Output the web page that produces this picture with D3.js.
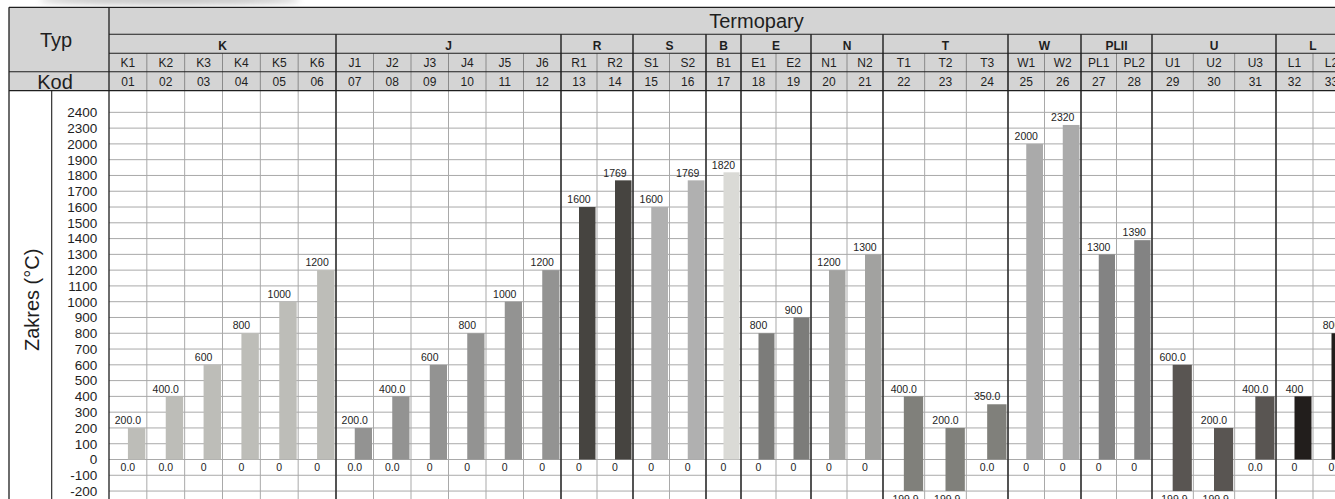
<!DOCTYPE html>
<html>
<head>
<meta charset="utf-8">
<script src="https://cdn.jsdelivr.net/npm/d3@7"></script>
<style>
  html, body { margin: 0; padding: 0; background: #fff; }
  svg { display: block; font-family: "Liberation Sans", Arial, Helvetica, sans-serif; }
</style>
</head>
<body>
<svg id="chart" width="1335" height="499"></svg>
<script>
// ---- data -------------------------------------------------------------
const typeNames = ["K1","K2","K3","K4","K5","K6","J1","J2","J3","J4","J5","J6",
  "R1","R2","S1","S2","B1","E1","E2","N1","N2","T1","T2","T3",
  "W1","W2","PL1","PL2","U1","U2","U3","L1","L2"];
const codes = ["01","02","03","04","05","06","07","08","09","10","11","12",
  "13","14","15","16","17","18","19","20","21","22","23","24",
  "25","26","27","28","29","30","31","32","33"];
const groupOf = ["K","K","K","K","K","K","J","J","J","J","J","J",
  "R","R","S","S","B","E","E","N","N","T","T","T",
  "W","W","PLII","PLII","U","U","U","L","L"];
// upper and lower end of each measuring range, °C
const rangeMax = [200,400,600,800,1000,1200, 200,400,600,800,1000,1200,
  1600,1769, 1600,1769, 1820, 800,900, 1200,1300, 400,200,350,
  2000,2320, 1300,1390, 600,200,400, 400,800];
const rangeMin = [0,0,0,0,0,0, 0,0,0,0,0,0,
  0,0, 0,0, 0, 0,0, 0,0, -199.9,-199.9,0,
  0,0, 0,0, -199.9,-199.9,0, 0,0];
// number of decimals printed in the value labels
const maxDecimals = [1,1,0,0,0,0, 1,1,0,0,0,0, 0,0, 0,0, 0, 0,0, 0,0, 1,1,1, 0,0, 0,0, 1,1,1, 0,0];
const minDecimals = [1,1,0,0,0,0, 1,1,0,0,0,0, 0,0, 0,0, 0, 0,0, 0,0, 1,1,1, 0,0, 0,0, 1,1,1, 0,0];
const yTicks = [2400,2300,2000,1900,1800,1700,1600,1500,1400,1300,1200,1100,1000,
  900,800,700,600,500,400,300,200,100,0,-100,-200];

// ---- styles -----------------------------------------------------------
const groupColor = {
  K: "#bdbdb8", J: "#939392", R: "#464440", S: "#b0b0b0", B: "#dadad6",
  E: "#7c7c7a", N: "#a2a2a0", T: "#80807b", W: "#aaaaaa", PLII: "#838383",
  U: "#595552", L: "#221e1c"
};
const headFill = "#d4d4d4";
const dark = "#1e1e1e";
const grid = "#a9a9a9";

// plain hyphen for negative numbers
const locale = d3.formatLocale({ decimal: ".", thousands: "", grouping: [3], currency: ["", ""], minus: "-" });
const fmt = n => locale.format(`.${n}f`);

// ---- layout -----------------------------------------------------------
const leftEdge = 9, splitX = 51.7, plotLeft = 109, tableRight = 1404;
const headTop = 7.3, rowTitle = 34.3, rowGroup = 53.3, rowName = 71.7, bodyTop = 90.7;
const bodyBottom = 510;
const zeroY = 459.5, rowH = 15.78;
// pixel edges of the thermocouple groups
const groupEdgePx = [109, 336, 561, 633, 706, 741, 811, 883, 1008, 1081, 1152, 1276, 1350];

const svg = d3.select("#chart");

// group spans (start/end column index)
const groups = [];
groupOf.forEach((g, i) => {
  const last = groups[groups.length - 1];
  if (last && last.name === g) last.end = i + 1;
  else groups.push({ name: g, start: i, end: i + 1 });
});
const groupEdgeIdx = [0, ...groups.map(g => g.end)];

// column index -> pixel (piecewise linear over group edges)
const x = d3.scaleLinear().domain(groupEdgeIdx).range(groupEdgePx);
const colMid = i => (x(i) + x(i + 1)) / 2;

// value -> pixel; the top of the scale is compressed above 2000
const y = d3.scaleLinear()
  .domain([-200, 2000, 2300, 2400])
  .range([zeroY + 2 * rowH, zeroY - 20 * rowH, zeroY - 21 * rowH, zeroY - 22 * rowH]);

// ---- soft shading at the top edge of the sheet ----------------------
const defs = svg.append("defs");
defs.append("filter").attr("id", "soft").append("feGaussianBlur").attr("stdDeviation", 3);
svg.append("ellipse")
  .attr("cx", 170).attr("cy", 0).attr("rx", 130).attr("ry", 5)
  .attr("fill", "#9a9a9a").attr("opacity", 0.55).attr("filter", "url(#soft)");

// ---- header -----------------------------------------------------------
svg.append("rect")
  .attr("x", leftEdge).attr("y", headTop)
  .attr("width", tableRight - leftEdge).attr("height", bodyTop - headTop)
  .attr("fill", headFill);

// column separators in the name and code rows
svg.append("g").selectAll("line")
  .data(d3.range(1, typeNames.length))
  .join("line")
  .attr("x1", i => x(i)).attr("x2", i => x(i))
  .attr("y1", rowGroup).attr("y2", bodyTop)
  .attr("stroke", "#8a8a8a").attr("stroke-width", 1);

// titles
svg.append("text").text("Typ")
  .attr("x", 56).attr("y", 46.5).attr("text-anchor", "middle")
  .attr("font-size", 20).attr("fill", dark);
svg.append("text").text("Kod")
  .attr("x", 55).attr("y", 89).attr("text-anchor", "middle")
  .attr("font-size", 20).attr("fill", dark);
svg.append("text").text("Termopary")
  .attr("x", (plotLeft + tableRight) / 2).attr("y", 28.3).attr("text-anchor", "middle")
  .attr("font-size", 20).attr("fill", dark);

// group letters
svg.append("g").selectAll("text")
  .data(groups)
  .join("text")
  .text(d => d.name)
  .attr("x", d => (x(d.start) + x(d.end)) / 2)
  .attr("y", 50)
  .attr("text-anchor", "middle")
  .attr("font-size", 12).attr("font-weight", "bold").attr("fill", dark);

// type names and codes
svg.append("g").selectAll("text")
  .data(typeNames)
  .join("text")
  .text(d => d)
  .attr("x", (d, i) => colMid(i)).attr("y", 67)
  .attr("text-anchor", "middle").attr("font-size", 12).attr("fill", dark);
svg.append("g").selectAll("text")
  .data(codes)
  .join("text")
  .text(d => d)
  .attr("x", (d, i) => colMid(i)).attr("y", 85.5)
  .attr("text-anchor", "middle").attr("font-size", 12).attr("fill", dark);

// ---- body grid --------------------------------------------------------
svg.append("g").selectAll("line")
  .data(yTicks)
  .join("line")
  .attr("x1", plotLeft).attr("x2", tableRight)
  .attr("y1", d => y(d)).attr("y2", d => y(d))
  .attr("stroke", grid).attr("stroke-width", 1);

svg.append("g").selectAll("line")
  .data(d3.range(1, typeNames.length))
  .join("line")
  .attr("x1", i => x(i)).attr("x2", i => x(i))
  .attr("y1", bodyTop).attr("y2", bodyBottom)
  .attr("stroke", grid).attr("stroke-width", 1);

// y axis labels
const yAxis = d3.axisLeft(y).tickValues(yTicks).tickSize(0).tickPadding(11.7).tickFormat(fmt(0));
const ay = svg.append("g").attr("transform", `translate(${plotLeft},0)`).call(yAxis);
ay.select(".domain").remove();
ay.selectAll("text")
  .attr("font-size", 13.5).attr("fill", dark)
  .attr("font-family", "Liberation Sans, Arial, sans-serif");

svg.append("text").text("Zakres (°C)")
  .attr("transform", `translate(31.5,${(bodyTop + 499) / 2 + 5}) rotate(-90)`)
  .attr("text-anchor", "middle").attr("dominant-baseline", "central")
  .attr("font-size", 20).attr("fill", dark);

// ---- bars ---------------------------------------------------------------
const idx = d3.range(typeNames.length);
svg.append("g").selectAll("rect")
  .data(idx)
  .join("rect")
  .attr("x", i => colMid(i))
  .attr("width", i => x(i + 1) - 1.5 - colMid(i))
  .attr("y", i => y(rangeMax[i]))
  .attr("height", i => y(rangeMin[i]) - y(rangeMax[i]))
  .attr("fill", i => groupColor[groupOf[i]]);

// value labels above and below each bar
svg.append("g").selectAll("text")
  .data(idx)
  .join("text")
  .text(i => fmt(maxDecimals[i])(rangeMax[i]))
  .attr("x", i => colMid(i))
  .attr("y", i => y(rangeMax[i]) - 3.8)
  .attr("text-anchor", "middle").attr("font-size", 10.5).attr("fill", dark);
svg.append("g").selectAll("text")
  .data(idx)
  .join("text")
  .text(i => fmt(minDecimals[i])(rangeMin[i]))
  .attr("x", i => colMid(i))
  .attr("y", i => y(rangeMin[i]) + 11.5)
  .attr("text-anchor", "middle").attr("font-size", 10.5).attr("fill", dark);

// ---- frame lines --------------------------------------------------------
const frame = svg.append("g").attr("stroke", dark).attr("fill", "none");
// horizontal header rules
frame.append("line").attr("x1", leftEdge).attr("x2", tableRight).attr("y1", headTop).attr("y2", headTop).attr("stroke-width", 1.3);
frame.append("line").attr("x1", plotLeft).attr("x2", tableRight).attr("y1", rowTitle).attr("y2", rowTitle).attr("stroke-width", 1.1);
frame.append("line").attr("x1", plotLeft).attr("x2", tableRight).attr("y1", rowGroup).attr("y2", rowGroup).attr("stroke-width", 1.1);
frame.append("line").attr("x1", leftEdge).attr("x2", tableRight).attr("y1", rowName).attr("y2", rowName).attr("stroke-width", 1.1);
frame.append("line").attr("x1", leftEdge).attr("x2", tableRight).attr("y1", bodyTop).attr("y2", bodyTop).attr("stroke-width", 1.3);
// vertical frame
frame.append("line").attr("x1", leftEdge).attr("x2", leftEdge).attr("y1", headTop).attr("y2", bodyBottom).attr("stroke-width", 1.3);
frame.append("line").attr("x1", splitX).attr("x2", splitX).attr("y1", bodyTop).attr("y2", bodyBottom).attr("stroke-width", 1.1);
frame.append("line").attr("x1", plotLeft).attr("x2", plotLeft).attr("y1", headTop).attr("y2", bodyBottom).attr("stroke-width", 1.3);
// group boundaries
frame.selectAll("line.grp")
  .data(groups.slice(1))
  .join("line").attr("class", "grp")
  .attr("x1", d => x(d.start)).attr("x2", d => x(d.start))
  .attr("y1", rowTitle).attr("y2", bodyBottom)
  .attr("stroke-width", 1.4);
</script>
</body>
</html>
